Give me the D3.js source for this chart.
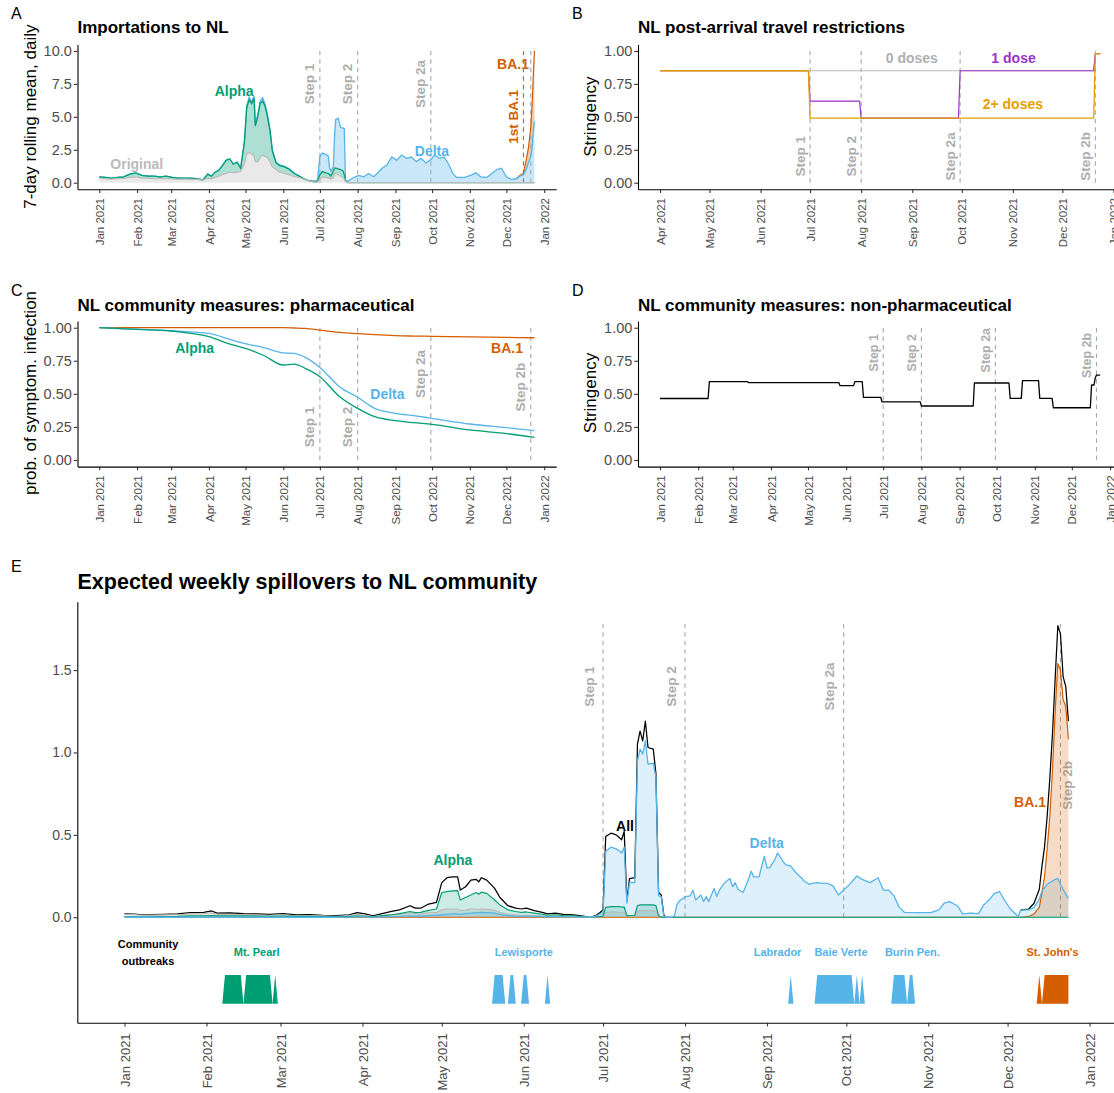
<!DOCTYPE html>
<html><head><meta charset="utf-8">
<script src="https://cdn.jsdelivr.net/npm/d3@7/dist/d3.min.js"></script>
<style>
body{margin:0;background:#fff;}
svg text{font-family:"Liberation Sans",Arial,Helvetica,sans-serif;}
</style></head>
<body>
<svg id="chart" width="1114" height="1093"></svg>
<script>
// ================= DATA (days counted from 2021-01-01) =================
const stepNames = ["Step 1","Step 2","Step 2a","Step 2b"];
const stepDays = [181, 212, 272, 354];
const firstBA1Day = 348;
const ticksYear = ["2021-01-01","2021-02-01","2021-03-01","2021-04-01","2021-05-01","2021-06-01","2021-07-01","2021-08-01","2021-09-01","2021-10-01","2021-11-01","2021-12-01","2022-01-01"];
const ticksB = ["2021-04-01","2021-05-01","2021-06-01","2021-07-01","2021-08-01","2021-09-01","2021-10-01","2021-11-01","2021-12-01","2022-01-01"];
const ticksA = [0,2.5,5,7.5,10];
const ticksUnit = [0,0.25,0.5,0.75,1];
const ticksE = [0,0.5,1,1.5];

// Panel A: daily importations (7-day mean) by variant (stacked)
const aDays = [0,5,10,15,20,25,30,35,40,45,50,55,60,65,70,75,80,85,
 89,92,95,98,101,104,107,110,113,116,
 119,121,123,125,127,128,130,132,134,136,138,140,142,
 145,148,152,156,160,164,168,172,176,179,
 181,183,186,188,189,190,192,193,194,196,198,200,201,202,204,
 207,210,213,217,221,225,228,232,236,240,244,248,252,256,260,264,268,272,275,279,283,287,290,293,296,300,305,309,313,318,322,326,330,334,338,342,345,348,350,352,354,355,356,357];
const aOriginal = [.35,.30,.28,.30,.32,.40,.45,.35,.35,.30,.30,.32,.28,.25,.28,.25,.25,.20,
 .35,.30,.40,.50,.60,.70,.80,.75,.80,.85,
 1.40,2.20,2.30,2.20,2.00,1.60,1.60,1.90,2.10,2.00,1.90,1.60,1.20,
 1.00,.80,.70,.60,.45,.40,.25,.15,.05,.05,
 .30,.40,.40,.35,.35,.30,.35,.70,.70,.60,.50,.40,.30,.10,0,
 0,0,0,0,0,0,0,0,0,0,0,0,0,0,0,0,0,0,0,0,0,0,0,0,0,0,0,0,0,0,0,0,0,0,0,0,0,0,0,0,0,0,0,0];
const aAlpha = [.10,.10,.07,.10,.13,.25,.30,.20,.15,.20,.15,.18,.12,.10,.07,.10,.05,.02,
 .30,.20,.40,.45,.70,1.00,1.00,.65,.75,.25,
 1.60,3.50,4.00,3.80,4.40,2.70,3.40,4.10,4.10,3.80,3.10,2.40,1.20,
 .50,.50,.50,.40,.25,.10,.05,0,.05,.05,
 .30,.45,.35,.35,.25,.20,.55,.40,.40,.45,.50,.50,.30,0,0,
 0,0,0,0,0,0,0,0,0,0,0,0,0,0,0,0,0,0,0,0,0,0,0,0,0,0,0,0,0,0,0,0,0,0,0,0,0,0,0,0,0,0,0,0];
const aDelta = [0,0,0,0,0,0,0,0,0,0,0,0,0,0,0,0,0,0,
 0,0,0,0,0,0,.02,.02,.03,.03,
 .05,.15,.20,.15,.20,.15,.15,.20,.25,.20,.15,.10,.10,
 .05,.05,.05,.05,.02,0,0,0,0,.05,
 1.40,1.40,1.40,1.30,.50,.40,.30,2.40,3.70,3.85,3.20,3.25,3.50,.10,.10,
 .30,.45,.55,.45,.70,.45,.70,1.10,1.35,1.95,1.70,2.10,1.85,1.95,1.60,1.85,1.50,1.75,2.10,1.85,1.95,1.35,.70,.40,.40,.40,.58,.75,.45,.40,.70,1.00,1.10,.45,.25,.30,.50,.60,.96,1.50,2.00,2.60,3.80,4.65];
const aBA1 = [0,0,0,0,0,0,0,0,0,0,0,0,0,0,0,0,0,0,
 0,0,0,0,0,0,0,0,0,0,
 0,0,0,0,0,0,0,0,0,0,0,0,0,
 0,0,0,0,0,0,0,0,0,0,
 0,0,0,0,0,0,0,0,0,0,0,0,0,0,0,
 0,0,0,0,0,0,0,0,0,0,0,0,0,0,0,0,0,0,0,0,0,0,0,0,0,0,0,0,0,0,0,0,0,0,0,0,.05,.10,.64,1.10,2.20,3.20,4.20,5.35];

// Panel B: post-arrival travel restriction stringency by vaccination status
const bDays = [90,180,181,211,212,271,272,353,354,357];
const b0Doses = [.85,.85,.85,.85,.85,.85,.85,.85,.98,.98];
const b1Dose  = [.85,.85,.62,.62,.49,.49,.85,.85,.98,.98];
const b2Doses = [.85,.85,.49,.49,.49,.49,.49,.49,.98,.98];

// Panel C: probability of symptomatic infection
const cDays  = [0,31,59,90,106,120,135,151,160,169,181,197,212,226,243,258,273,304,334,357];
const cAlpha = [1.0,.987,.975,.932,.88,.844,.79,.718,.725,.693,.63,.48,.39,.327,.297,.282,.27,.227,.20,.171];
const cDelta = [1.0,.99,.977,.957,.915,.88,.85,.81,.806,.776,.70,.554,.474,.39,.353,.335,.315,.272,.244,.222];
const cBA1   = [1,1,1,1,1,1,1,1,.998,.995,.982,.965,.955,.947,.94,.937,.935,.93,.927,.924];

// Panel D: non-pharmaceutical stringency
const dDays = [0,39,40,71,72,145,146,157,158,164,165,179,180,211,212,254,255,283,284,293,294,307,308,318,319,349,350,352,353,354,357];
const dStringency = [.465,.465,.592,.592,.585,.585,.562,.562,.592,.592,.474,.474,.44,.44,.408,.408,.582,.582,.466,.466,.60,.60,.466,.466,.395,.395,.567,.567,.62,.642,.642];

// Panel E: expected weekly spillovers
const eDays = [0,5,10,15,20,25,30,33,35,40,45,50,55,60,65,70,75,80,85,
 88,91,94,97,101,104,108,110,112,115,118,
 120,122,124,126,127,129,131,133,134,135,137,140,142,145,
 148,150,152,155,158,160,163,166,170,174,176,178,
 180,181,182,184,186,187,188,189,190,191,193,194,195,196,197,198,200,201,202,203,204,205,207,
 208,209,210,212,214,215,216,218,219,220,221,223,224,225,227,229,230,231,232,234,236,237,238,240,241,242,243,244,246,247,249,250,252,254,256,257,259,
 260,262,264,266,268,270,272,274,277,279,282,285,287,289,291,293,295,300,305,308,310,312,315,317,320,323,325,327,329,331,333,335,338,
 339,342,344,346,347,348,349,350,351,352,353,354,355,356,357];
const eAll = [.022,.018,.016,.018,.020,.028,.030,.038,.025,.026,.022,.020,.018,.022,.014,.016,.012,.010,.015,
 .028,.020,.008,.020,.035,.045,.070,.055,.055,.080,.090,
 .210,.240,.245,.245,.165,.185,.225,.230,.215,.240,.225,.175,.120,.070,
 .055,.050,.055,.040,.030,.020,.025,.018,.015,.006,0,.008,
 .030,.045,.490,.510,.500,.485,.470,.520,.100,.235,.240,1.050,1.130,1.070,1.190,1.030,1.020,.870,.150,.135,.010,0,0,
 .010,.080,.100,.125,.130,.165,.105,.135,.095,.125,.095,.175,.125,.165,.210,.235,.185,.210,.170,.150,.230,.280,.245,.245,.310,.370,.300,.300,.350,.390,.340,.320,.310,.270,.240,.220,.200,
 .205,.210,.205,.205,.190,.135,.165,.195,.250,.230,.210,.240,.165,.165,.130,.060,.030,.028,.028,.045,.085,.095,.070,.020,.025,.022,.075,.105,.145,.155,.100,.050,.005,
 .045,.050,.085,.170,.310,.430,.620,.850,1.120,1.450,1.770,1.720,1.460,1.400,1.190];
const eDelta = [0,0,0,0,0,0,0,0,0,0,0,0,0,0,0,0,0,0,.001,
 .002,.002,.001,.002,.004,.005,.008,.006,.006,.010,.012,
 .015,.018,.020,.020,.018,.022,.025,.028,.028,.030,.028,.025,.018,.010,
 .006,.005,.006,.005,.004,.003,.003,.002,.002,.001,0,.005,
 .020,.030,.400,.425,.415,.405,.390,.425,.085,.210,.210,.950,1.020,.990,1.070,.930,.935,.850,.130,.125,.005,0,0,
 .010,.080,.100,.125,.130,.165,.105,.135,.095,.125,.095,.175,.125,.165,.210,.235,.185,.210,.170,.150,.230,.280,.245,.245,.310,.370,.300,.300,.350,.390,.340,.320,.310,.270,.240,.220,.200,
 .205,.210,.205,.205,.190,.135,.165,.195,.250,.230,.210,.240,.165,.165,.130,.060,.030,.028,.028,.045,.085,.095,.070,.020,.025,.022,.075,.105,.145,.155,.100,.050,.005,
 .045,.045,.060,.110,.160,.180,.200,.210,.220,.230,.235,.200,.170,.140,.115];
const eEarlyDays = [0,5,10,15,20,25,30,33,35,40,45,50,55,60,65,70,75,80,85,
 88,91,94,97,101,104,108,110,112,115,118,
 120,122,124,126,127,129,131,133,134,135,137,140,142,145,
 148,150,152,155,158,160,163,166,170,174,176,178,
 180,181,182,184,186,187,188,189,190,191,193,194,195,196,197,198,200,201,202,203,204,205,207,357];
const eAlpha = [.003,.003,.003,.004,.005,.008,.008,.010,.008,.009,.008,.007,.006,.007,.005,.006,.004,.004,.004,
 .008,.006,.003,.008,.015,.022,.035,.028,.030,.042,.050,
 .150,.155,.160,.162,.105,.120,.135,.150,.140,.152,.145,.105,.075,.045,
 .035,.030,.032,.025,.018,.012,.015,.010,.008,.003,0,.002,
 .005,.008,.060,.065,.065,.065,.062,.062,.010,.010,.012,.070,.075,.075,.075,.075,.075,.070,.010,0,0,0,0,0];
const eOriginal = [.019,.015,.013,.014,.015,.020,.022,.026,.017,.017,.014,.013,.012,.015,.009,.010,.008,.006,.010,
 .018,.012,.004,.010,.016,.018,.027,.021,.019,.028,.028,
 .045,.050,.050,.050,.042,.043,.050,.050,.047,.050,.048,.042,.030,.018,
 .014,.012,.013,.010,.008,.006,.007,.005,.004,.002,0,.001,
 .003,.005,.030,.032,.032,.030,.030,.030,.005,.008,.008,.035,.040,.040,.040,.040,.040,.035,.005,0,0,0,0,0];
const eBA1Days = [0,338,339,342,344,346,347,348,349,350,351,352,353,354,355,356,357];
const eBA1 = [0,0,0,.005,.020,.060,.150,.250,.420,.620,.900,1.250,1.540,1.500,1.320,1.280,1.080];

// community outbreaks (active-day spans)
const outbreakNames = ["Mt. Pearl","Lewisporte","Labrador","Baie Verte","Burin Pen.","St. John's"];
const outbreakVariant = ["Alpha","Delta","Delta","Delta","Delta","BA.1"];
const outbreakLabelDay = [50,151,247,271,298,351];
const outbreakSpans = [[0,38,44],[0,46,55],[0,57,57],[1,140,143],[1,146,147],[1,151,152],[1,160,160],
 [2,252,252],[3,262,275],[3,277,277],[3,279,279],[4,291,295],[4,297,298],[5,346,346],[5,348,357]];

// ================= DRAWING =================
const COL = {Original:"#BBBBBB", Alpha:"#009E73", Delta:"#56B4E9", "BA.1":"#D55E00", All:"#000000",
             d0:"#BBBBBB", d1:"#9933CC", d2:"#E69F00"};
const STEPC = "#a8a8a8";
const svg = d3.select("#chart");
const P = d3.utcParse("%Y-%m-%d");
const D = d => new Date(Date.UTC(2021,0,1) + d*864e5);
const LAST = 357;
function xScale(l, r, s, e){ const p=(e-s)*0.05; return d3.scaleUtc().domain([D(s-p), D(e+p)]).range([l,r]); }

function axes(x, y, o){
  const xb = y.range()[0];
  const gx = svg.append("g").attr("transform",`translate(0,${xb})`)
    .call(d3.axisBottom(x).tickValues(o.xTicks.map(P)).tickFormat(d3.utcFormat("%b %Y")).tickSizeInner(3.7).tickSizeOuter(0));
  gx.select(".domain").attr("stroke","#000").attr("stroke-width",1.1);
  gx.selectAll(".tick line").attr("stroke","#333").attr("stroke-width",1.1);
  gx.selectAll(".tick text").attr("transform","rotate(-90)").attr("x",-(3.7+o.xPad)).attr("y",0)
    .attr("dy","0.35em").attr("text-anchor","end").attr("fill","#4d4d4d").style("font-size",o.xFont+"px");
  const xl = x.range()[0];
  const gy = svg.append("g").attr("transform",`translate(${xl},0)`)
    .call(d3.axisLeft(y).tickValues(o.yTicks).tickFormat(o.yFmt).tickSizeInner(3.7).tickSizeOuter(0).tickPadding(2));
  gy.select(".domain").attr("stroke","#000").attr("stroke-width",1.1);
  gy.selectAll(".tick line").attr("stroke","#333").attr("stroke-width",1.1);
  gy.selectAll(".tick text").attr("fill","#4d4d4d").style("font-size",o.yFont+"px");
}
function text(t, px, py, o){
  const el = svg.append("text").attr("x",px).attr("y",py).attr("text-anchor",o.anchor||"start")
    .attr("fill",o.color||"#000").style("font-size",o.size+"px").style("font-weight",o.bold?"bold":"normal").text(t);
  if (o.central) el.attr("dominant-baseline","central");
  return el;
}
function vtext(t, px, py, o){
  svg.append("text").attr("transform",`translate(${px},${py}) rotate(-90)`).attr("text-anchor","middle")
    .attr("fill",o.color||"#000").style("font-size",o.size+"px").style("font-weight",o.bold?"bold":"normal").text(t);
}
function vline(x, y, day, top, color){
  svg.append("line").attr("x1",x(D(day))).attr("x2",x(D(day))).attr("y1",y(0)).attr("y2",y(top))
    .attr("stroke",color).attr("stroke-width",1.1).attr("stroke-dasharray","4.5,4");
}
function steps(x, y, top, specs, size){
  stepDays.forEach(d => vline(x, y, d, top, STEPC));
  specs.forEach(s => vtext(stepNames[s[0]], x(D(stepDays[s[0]])) + s[2], y(s[1]), {color:"#adadad", size:size, bold:true}));
}
function lineXY(x, y, days, vals, color, w, curve, defined){
  const g = d3.line().x(i=>x(D(days[i]))).y(i=>y(vals[i]));
  if (curve) g.curve(curve);
  if (defined) g.defined(defined);
  svg.append("path").attr("d", g(d3.range(days.length))).attr("fill","none").attr("stroke",color).attr("stroke-width",w||1.2).attr("stroke-linejoin","round");
}
function areaXY(x, y, days, vals, color, op){
  const g = d3.area().x(i=>x(D(days[i]))).y0(y(0)).y1(i=>y(vals[i]));
  svg.append("path").attr("d", g(d3.range(days.length))).attr("fill",color).attr("fill-opacity",op).attr("stroke","none");
}

// ---------- Panel A ----------
{
  const x = xScale(77.5, 556.2, 0, LAST);
  const y = d3.scaleLinear().domain([-0.5,10.5]).range([189.3,44.4]);
  const rows = aDays.map((d,i)=>({day:d, Original:aOriginal[i], Alpha:aAlpha[i], Delta:aDelta[i], "BA.1":aBA1[i]}));
  const keys = ["Original","Alpha","Delta","BA.1"];
  const st = d3.stack().keys(keys)(rows);
  const area = d3.area().x(d=>x(D(d.data.day))).y0(d=>y(d[0])).y1(d=>y(d[1]));
  st.forEach(s => svg.append("path").attr("d",area(s)).attr("fill",COL[s.key]).attr("fill-opacity",0.32));
  steps(x, y, 10, [[0,7.5,-5.5],[1,7.5,-5.5],[2,7.5,-5.5]], 13.5);
  vline(x, y, firstBA1Day, 10, COL["BA.1"]);
  const widths = {"BA.1":1.2, Delta:1.3, Alpha:1.3, Original:1.2};
  st.slice().reverse().forEach(s => {
    // a series' top line is only drawn where that layer has height (or next to it)
    const n = s.length;
    const has = s.map(d => d[1] - d[0] > 1e-9);
    const line = d3.line().x(d=>x(D(d.data.day))).y(d=>y(d[1]))
      .defined((d,i) => has[i] || (i>0 && has[i-1]) || (i<n-1 && has[i+1]) || s.key !== "BA.1");
    svg.append("path").attr("d",line(s)).attr("fill","none").attr("stroke",COL[s.key]).attr("stroke-width",widths[s.key]);
  });
  axes(x, y, {xTicks:ticksYear, yTicks:ticksA, yFmt:d3.format(".1f"), xFont:11.5, yFont:14.5, xPad:5});
  vtext("1st BA.1", x(D(firstBA1Day))-5.5, y(5.0), {color:COL["BA.1"], size:13.5, bold:true});
  text("BA.1", x(D(339.4)), y(9.0), {anchor:"middle", central:true, color:COL["BA.1"], size:14, bold:true});
  text("Alpha", x(D(110.7)), y(7.0), {anchor:"middle", central:true, color:COL.Alpha, size:14, bold:true});
  text("Original", x(D(30.8)), y(1.4), {anchor:"middle", central:true, color:COL.Original, size:14, bold:true});
  text("Delta", x(D(272.9)), y(2.43), {anchor:"middle", central:true, color:COL.Delta, size:14, bold:true});
  text("Importations to NL", 77.5, 33, {size:17, bold:true});
  text("A", 11, 19.3, {size:16});
  vtext("7-day rolling mean, daily", 36, 116.7, {size:17});
}
// ---------- Panel B ----------
{
  const x = xScale(638, 1122.3, 90, LAST);
  const y = d3.scaleLinear().domain([-0.05,1.05]).range([189.3,44.4]);
  steps(x, y, 1, [[0,0.2,-5.5],[1,0.2,-5.5],[2,0.2,-5.5],[3,0.2,-5.5]], 13.5);
  lineXY(x, y, bDays, b0Doses, COL.d0, 1.2);
  lineXY(x, y, bDays, b1Dose, COL.d1, 1.2);
  lineXY(x, y, bDays, b2Doses, COL.d2, 1.3);
  axes(x, y, {xTicks:ticksB, yTicks:ticksUnit, yFmt:d3.format(".2f"), xFont:11.5, yFont:14.5, xPad:5});
  text("0 doses", x(D(242.7)), y(0.95), {anchor:"middle", central:true, color:"#b0b0b0", size:14, bold:true});
  text("1 dose", x(D(304.4)), y(0.95), {anchor:"middle", central:true, color:COL.d1, size:14, bold:true});
  text("2+ doses", x(D(304)), y(0.595), {anchor:"middle", central:true, color:COL.d2, size:14, bold:true});
  text("NL post-arrival travel restrictions", 638, 33, {size:17, bold:true});
  text("B", 572, 19.3, {size:16});
  vtext("Stringency", 596, 116.7, {size:17});
}
// ---------- Panel C ----------
{
  const x = xScale(77.5, 556.2, 0, LAST);
  const y = d3.scaleLinear().domain([-0.05,1.05]).range([466.6,321.1]);
  steps(x, y, 1, [[0,0.25,-6],[1,0.25,-6],[2,0.65,-6],[3,0.55,-6]], 13.5);
  lineXY(x, y, cDays, cBA1, COL["BA.1"], 1.3, d3.curveMonotoneX);
  lineXY(x, y, cDays, cDelta, COL.Delta, 1.3, d3.curveMonotoneX);
  lineXY(x, y, cDays, cAlpha, COL.Alpha, 1.3, d3.curveMonotoneX);
  axes(x, y, {xTicks:ticksYear, yTicks:ticksUnit, yFmt:d3.format(".2f"), xFont:11.5, yFont:14.5, xPad:5});
  text("Alpha", x(D(78.2)), y(0.844), {anchor:"middle", central:true, color:COL.Alpha, size:14, bold:true});
  text("Delta", x(D(236.4)), y(0.5), {anchor:"middle", central:true, color:COL.Delta, size:14, bold:true});
  text("BA.1", x(D(334.5)), y(0.844), {anchor:"middle", central:true, color:COL["BA.1"], size:14, bold:true});
  text("NL community measures: pharmaceutical", 77.5, 310.7, {size:17, bold:true});
  text("C", 11, 296, {size:16});
  vtext("prob. of symptom. infection", 36, 393, {size:17});
}
// ---------- Panel D ----------
{
  const x = xScale(638, 1122.2, 0, LAST);
  const y = d3.scaleLinear().domain([-0.05,1.05]).range([466.6,321.1]);
  steps(x, y, 1, [[0,0.81,-5],[1,0.81,-5],[2,0.83,-5],[3,0.79,-5]], 12.5);
  lineXY(x, y, dDays, dStringency, "#000", 1.3);
  axes(x, y, {xTicks:ticksYear, yTicks:ticksUnit, yFmt:d3.format(".2f"), xFont:11.5, yFont:14.5, xPad:5});
  text("NL community measures: non-pharmaceutical", 638, 310.7, {size:17, bold:true});
  text("D", 572, 296, {size:16});
  vtext("Stringency", 596, 393, {size:17});
}
// ---------- Panel E ----------
{
  const x = xScale(77.3, 1115.6, 0, LAST);
  const y = d3.scaleLinear().domain([-0.64,1.915]).range([1022.7,601.7]);
  steps(x, y, 1.8, [[0,1.4,-9.5],[1,1.4,-9.5],[2,1.4,-9.5],[3,0.8,11.3]], 13.5);
  areaXY(x, y, eEarlyDays, eOriginal, COL.Original, 0.3);
  areaXY(x, y, eEarlyDays, eAlpha, COL.Alpha, 0.2);
  areaXY(x, y, eDays, eDelta, COL.Delta, 0.2);
  areaXY(x, y, eBA1Days, eBA1, COL["BA.1"], 0.22);
  // black "All" line: hidden where it coincides with Delta, so only drawn where it differs
  const diff = eAll.map((v,i) => Math.abs(v - eDelta[i]) > 1e-6);
  const n = eAll.length;
  lineXY(x, y, eDays, eAll, COL.All, 1.25, null, i => diff[i] || (i>0 && diff[i-1]) || (i<n-1 && diff[i+1]));
  lineXY(x, y, eBA1Days, eBA1, COL["BA.1"], 1.2);
  lineXY(x, y, eEarlyDays, eOriginal, COL.Original, 1.2);
  lineXY(x, y, eEarlyDays, eAlpha, COL.Alpha, 1.2);
  lineXY(x, y, eDays, eDelta, COL.Delta, 1.3);
  // outbreak indicator shapes
  const yOff = -0.525, yOn = -0.35;
  outbreakSpans.forEach(s => {
    const k = s[0], a = s[1], b = s[2];
    const pts = [[a-1,yOff],[a,yOn],[b,yOn],[Math.min(b+1,LAST),yOff]];
    if (b === LAST) pts[3] = [LAST, yOff];
    svg.append("path").attr("d", d3.line()(pts.map(p=>[x(D(p[0])), y(p[1])])) + "Z")
      .attr("fill", COL[outbreakVariant[k]]).attr("stroke","none");
  });
  outbreakNames.forEach((nm,i) => text(nm, x(D(outbreakLabelDay[i])), y(-0.212), {anchor:"middle", central:true, color:COL[outbreakVariant[i]], size:11, bold:true}));
  text("Community", x(D(8.9)), y(-0.164), {anchor:"middle", central:true, size:11, bold:true});
  text("outbreaks", x(D(8.9)), y(-0.263), {anchor:"middle", central:true, size:11, bold:true});
  axes(x, y, {xTicks:ticksYear, yTicks:ticksE, yFmt:d3.format(".1f"), xFont:13, yFont:14, xPad:7});
  text("Alpha", x(D(124.2)), y(0.348), {anchor:"middle", central:true, color:COL.Alpha, size:14, bold:true});
  text("All", x(D(189.3)), y(0.556), {anchor:"middle", central:true, color:"#000", size:14, bold:true});
  text("Delta", x(D(242.9)), y(0.449), {anchor:"middle", central:true, color:COL.Delta, size:14, bold:true});
  text("BA.1", x(D(342.5)), y(0.698), {anchor:"middle", central:true, color:COL["BA.1"], size:14, bold:true});
  text("Expected weekly spillovers to NL community", 77.5, 588.7, {size:21.5, bold:true});
  text("E", 11, 572, {size:16});
}
</script>
</body></html>
